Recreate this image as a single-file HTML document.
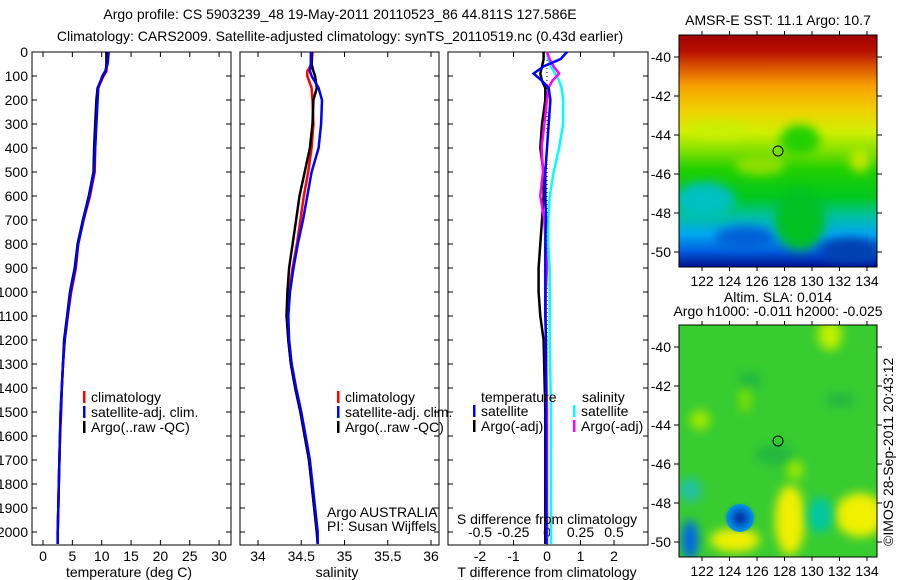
<!DOCTYPE html>
<html><head><meta charset="utf-8">
<style>
body{margin:0;background:#fff;}
svg{display:block;font-family:"Liberation Sans",sans-serif;}
text{font-size:14px;fill:#000;}
</style></head>
<body>
<svg id="fig" width="900" height="580" viewBox="0 0 900 580">
<defs>
<linearGradient id="sstg" x1="0" y1="0" x2="0" y2="1">
<stop offset="0" stop-color="#a00000"/>
<stop offset="0.07" stop-color="#b81000"/>
<stop offset="0.15" stop-color="#e06000"/>
<stop offset="0.22" stop-color="#f8a000"/>
<stop offset="0.32" stop-color="#f0d000"/>
<stop offset="0.42" stop-color="#d0f000"/>
<stop offset="0.5" stop-color="#80e000"/>
<stop offset="0.58" stop-color="#20d000"/>
<stop offset="0.7" stop-color="#00c820"/>
<stop offset="0.78" stop-color="#00c0a0"/>
<stop offset="0.86" stop-color="#00a8f0"/>
<stop offset="0.93" stop-color="#0060e0"/>
<stop offset="1" stop-color="#001090"/>
</linearGradient>
<filter id="bl" x="-50%" y="-50%" width="200%" height="200%"><feGaussianBlur stdDeviation="5"/></filter>
<clipPath id="c1"><rect x="679" y="35" width="198" height="232"/></clipPath>
<clipPath id="c2"><rect x="679" y="325" width="198" height="232"/></clipPath>
</defs>
<text x="340" y="19" text-anchor="middle">Argo profile: CS 5903239_48 19-May-2011 20110523_86 44.811S 127.586E</text>
<text x="340" y="41" text-anchor="middle">Climatology: CARS2009. Satellite-adjusted climatology: synTS_20110519.nc (0.43d earlier)</text>
<g id="p1"></g>
<g id="p2"></g>
<g id="p3"></g>

<g>
<text x="778" y="25" text-anchor="middle">AMSR-E SST: 11.1 Argo: 10.7</text>
<g clip-path="url(#c1)">
<rect x="679" y="35" width="198" height="232" fill="url(#sstg)"/>
<ellipse cx="705" cy="200" rx="30" ry="18" fill="#00c0c0" filter="url(#bl)"/>
<ellipse cx="745" cy="238" rx="30" ry="12" fill="#0060d8" filter="url(#bl)"/>
<ellipse cx="800" cy="220" rx="25" ry="30" fill="#00c020" filter="url(#bl)"/>
<ellipse cx="850" cy="250" rx="30" ry="12" fill="#0040b0" filter="url(#bl)"/>
<ellipse cx="760" cy="165" rx="25" ry="10" fill="#90e000" filter="url(#bl)"/>
<ellipse cx="860" cy="160" rx="10" ry="12" fill="#c0e800" filter="url(#bl)"/>
<ellipse cx="800" cy="140" rx="20" ry="15" fill="#20d000" filter="url(#bl)"/>
<ellipse cx="720" cy="130" rx="30" ry="8" fill="#c8f000" filter="url(#bl)"/>
</g>
<rect x="679" y="35" width="198" height="232" fill="none" stroke="#000"/>
<circle cx="778" cy="151" r="5" fill="none" stroke="#000"/>
</g>

<g>
<text x="778" y="302" text-anchor="middle">Altim. SLA: 0.014</text>
<text x="778" y="316" text-anchor="middle">Argo h1000: -0.011 h2000: -0.025</text>
<g clip-path="url(#c2)">
<rect x="679" y="325" width="198" height="232" fill="#38cc30"/>
<ellipse cx="735" cy="540" rx="25" ry="12" fill="#f0f000" filter="url(#bl)"/>
<ellipse cx="790" cy="520" rx="15" ry="35" fill="#f0f000" filter="url(#bl)"/>
<ellipse cx="860" cy="515" rx="25" ry="22" fill="#f0f000" filter="url(#bl)"/>
<ellipse cx="820" cy="515" rx="12" ry="18" fill="#00c8a0" filter="url(#bl)"/>
<ellipse cx="690" cy="490" rx="12" ry="12" fill="#20c0a0" filter="url(#bl)"/>
<ellipse cx="690" cy="540" rx="8" ry="20" fill="#0060f0" filter="url(#bl)"/>
<ellipse cx="740" cy="518" rx="14" ry="14" fill="#00a0f0"/>
<ellipse cx="740" cy="518" rx="8" ry="8" fill="#001090" filter="url(#bl)"/>
<ellipse cx="830" cy="335" rx="12" ry="15" fill="#c0f000" filter="url(#bl)"/>
<ellipse cx="700" cy="420" rx="10" ry="10" fill="#a0e800" filter="url(#bl)"/>
<ellipse cx="750" cy="380" rx="12" ry="8" fill="#20b840" filter="url(#bl)"/>
<ellipse cx="775" cy="455" rx="20" ry="10" fill="#20b840" filter="url(#bl)"/>
<ellipse cx="795" cy="470" rx="8" ry="10" fill="#a0e800" filter="url(#bl)"/>
<ellipse cx="840" cy="400" rx="15" ry="8" fill="#20b840" filter="url(#bl)"/>
<ellipse cx="745" cy="400" rx="6" ry="12" fill="#80e000" filter="url(#bl)"/>
</g>
<rect x="679" y="325" width="198" height="232" fill="none" stroke="#000"/>
<circle cx="778" cy="441" r="5" fill="none" stroke="#000"/>
<text transform="translate(893,546) rotate(-90)">©IMOS 28-Sep-2011 20:43:12</text>
</g>
</svg>
<script>
const NS="http://www.w3.org/2000/svg";
// ---- data ----
const depthTicks=[0,100,200,300,400,500,600,700,800,900,1000,1100,1200,1300,1400,1500,1600,1700,1800,1900,2000];
const tempTicks=[0,5,10,15,20,25,30];
const salTicks=[34,34.5,35,35.5,36];
const tdiffTicks=[-2,-1,0,1,2];
const sdiffTicks=[-0.5,-0.25,0,0.25,0.5];
const sdiffLabels=["-0.5","-0.25","0","0.25","0.5"];
const depths=[0,50,80,100,150,200,300,400,500,600,700,800,900,1000,1100,1200,1300,1400,1500,1600,1700,1800,1900,2000,2050];
const tempClim=[10.9,10.9,10.8,10.3,9.4,9.2,9.0,8.9,8.8,8.0,6.9,6.0,5.6,4.8,4.2,3.7,3.4,3.2,3.1,2.9,2.8,2.7,2.6,2.5,2.5];
const tempSat=[11.2,11.0,10.6,10.1,9.4,9.3,9.1,8.9,8.7,7.9,6.9,6.0,5.5,4.7,4.2,3.7,3.4,3.2,3.0,2.9,2.8,2.7,2.6,2.5,2.5];
const tempArgo=[10.8,10.8,10.7,10.2,9.3,9.1,8.9,8.7,8.6,7.8,6.8,5.9,5.4,4.6,4.1,3.6,3.4,3.2,3.0,2.9,2.8,2.7,2.6,2.5,2.5];
const salClim=[34.63,34.62,34.57,34.57,34.62,34.63,34.64,34.62,34.58,34.53,34.49,34.45,34.40,34.36,34.34,34.35,34.38,34.43,34.49,34.54,34.59,34.62,34.65,34.68,34.69];
const salSat=[34.61,34.61,34.60,34.62,34.70,34.74,34.73,34.70,34.62,34.57,34.52,34.46,34.41,34.37,34.35,34.36,34.39,34.44,34.50,34.55,34.60,34.63,34.66,34.69,34.69];
const salArgo=[34.62,34.62,34.64,34.66,34.68,34.64,34.63,34.60,34.54,34.48,34.44,34.40,34.36,34.34,34.33,34.35,34.38,34.43,34.49,34.54,34.59,34.62,34.65,34.68,34.69];
const ddepths=[0,30,60,90,120,150,200,300,400,500,600,700,800,900,1000,1100,1200,1500,2000,2050];
const dTsat=[0.6,0.4,-0.1,-0.4,-0.15,0.05,0.1,0.05,0.0,-0.05,-0.05,-0.03,-0.05,-0.05,-0.05,-0.05,-0.03,-0.03,-0.02,-0.02];
const dTargo=[-0.1,-0.1,-0.15,-0.2,-0.15,-0.05,-0.05,-0.15,-0.2,-0.1,-0.1,-0.15,-0.2,-0.25,-0.25,-0.2,-0.1,-0.05,-0.05,-0.05];
const dSsat=[0.0,0.01,0.03,0.06,0.09,0.11,0.12,0.12,0.09,0.05,0.02,0.01,0.01,0.02,0.02,0.02,0.02,0.03,0.03,0.03];
const dSargo=[0.0,0.02,0.05,0.09,0.04,0.01,0.0,-0.02,-0.04,-0.03,-0.05,-0.02,-0.01,0.0,-0.01,-0.01,-0.01,0.0,0.0,0.0];

const yD=d=>52+d*0.24;
function el(p,tag,attrs,txt){const e=document.createElementNS(NS,tag);for(const k in attrs)e.setAttribute(k,attrs[k]);if(txt!==undefined)e.textContent=txt;p.appendChild(e);return e;}
function frame(g,x0,x1,leftLabels){
  el(g,'rect',{x:x0,y:52,width:x1-x0,height:493,fill:'none',stroke:'#000'});
  depthTicks.forEach(d=>{
    el(g,'line',{x1:x0,x2:x0+5,y1:yD(d),y2:yD(d),stroke:'#000'});
    el(g,'line',{x1:x1-5,x2:x1,y1:yD(d),y2:yD(d),stroke:'#000'});
    if(leftLabels){const t=el(g,'text',{x:x0-4,y:yD(d)+5,'text-anchor':'end'},d);
      
      }
  });
}
function xticks(g,vals,labels,sx,y){
  vals.forEach((v,i)=>{const x=sx(v);
    el(g,'line',{x1:x,x2:x,y1:545,y2:540,stroke:'#000'});
    el(g,'line',{x1:x,x2:x,y1:52,y2:57,stroke:'#000'});
    const t=el(g,'text',{x:x,y:y,'text-anchor':'middle'},labels?labels[i]:v);
    
    });
}
function line(g,xs,ds,sx,color,name){
  const pts=xs.map((v,i)=>sx(v).toFixed(1)+','+yD(ds[i]).toFixed(1)).join(' ');
  const p=el(g,'polyline',{points:pts,fill:'none',stroke:color,'stroke-width':2.5});
  
  
}
function legend(g,x,y,items){
  items.forEach((it,i)=>{
    el(g,'rect',{x:x,y:y+i*15-11,width:2.5,height:12,fill:it[1]});
    const t=el(g,'text',{x:x+8,y:y+i*15},it[0]);
    
    
  });
}
// Panel 1
const g1=document.getElementById('p1');
const sxT=v=>43+v*5.87;
frame(g1,32,231,true);
xticks(g1,tempTicks,null,sxT,561);
line(g1,tempClim,depths,sxT,'#f00','temp-climatology-line');
line(g1,tempArgo,depths,sxT,'#000','temp-argo-line');
line(g1,tempSat,depths,sxT,'#00f','temp-satellite-line');
legend(g1,83,402,[['climatology','#f00'],['satellite-adj. clim.','#00f'],['Argo(..raw -QC)','#000']]);
let t=el(g1,'text',{x:129,y:577,'text-anchor':'middle'},'temperature (deg C)');

// Panel 2
const g2=document.getElementById('p2');
const sxS=v=>258+(v-34)*86.5;
frame(g2,240,439,false);
xticks(g2,salTicks,null,sxS,561);
line(g2,salClim,depths,sxS,'#f00','sal-climatology-line');
line(g2,salArgo,depths,sxS,'#000','sal-argo-line');
line(g2,salSat,depths,sxS,'#00f','sal-satellite-line');
legend(g2,337,402,[['climatology','#f00'],['satellite-adj. clim.','#00f'],['Argo(..raw -QC)','#000']]);
t=el(g2,'text',{x:337,y:577,'text-anchor':'middle'},'salinity');

t=el(g2,'text',{x:327,y:517},'Argo AUSTRALIA');

t=el(g2,'text',{x:327,y:531},'PI: Susan Wijffels');

// Panel 3
const g3=document.getElementById('p3');
const sxD=v=>547+v*33.5;
const sxSD=v=>547+v*134;
frame(g3,448,648,false);
xticks(g3,tdiffTicks,null,sxD,561);
sdiffTicks.forEach((v,i)=>{const tt=el(g3,'text',{x:sxSD(v),y:537,'text-anchor':'middle'},sdiffLabels[i]);
  });
el(g3,'line',{x1:547,x2:547,y1:52,y2:545,stroke:'#000','stroke-dasharray':'1,3'});
line(g3,dSsat,ddepths,sxSD,'#0ff','sdiff-satellite-line');
line(g3,dTargo,ddepths,sxD,'#000','tdiff-argo-line');
line(g3,dSargo,ddepths,sxSD,'#f0f','sdiff-argo-line');
line(g3,dTsat,ddepths,sxD,'#00f','tdiff-satellite-line');
t=el(g3,'text',{x:481,y:402},'temperature');
t=el(g3,'text',{x:582,y:402},'salinity');
legend(g3,473,416,[['satellite','#00f'],['Argo(-adj)','#000']]);
legend(g3,573,416,[['satellite','#0ff'],['Argo(-adj)','#f0f']]);
t=el(g3,'text',{x:547,y:524,'text-anchor':'middle'},'S difference from climatology');

t=el(g3,'text',{x:547,y:577,'text-anchor':'middle'},'T difference from climatology');

// Map axes
const lats=[-40,-42,-44,-46,-48,-50];
const lons=[122,124,126,128,130,132,134];
const fig=document.getElementById('fig');
[[35,57],[325,347]].forEach(([top,y40])=>{
  lats.forEach(la=>{const y=y40+(-40-la)*19.5;
    el(fig,'line',{x1:674,x2:679,y1:y,y2:y,stroke:'#000'});
    el(fig,'line',{x1:877,x2:882,y1:y,y2:y,stroke:'#000'});
    const tt=el(fig,'text',{x:671,y:y+5,'text-anchor':'end'},la);
    });
  lons.forEach(lo=>{const x=702+(lo-122)*13.75;
    el(fig,'line',{x1:x,x2:x,y1:top-4,y2:top,stroke:'#000'});
    el(fig,'line',{x1:x,x2:x,y1:top+232,y2:top+236,stroke:'#000'});
    const tt=el(fig,'text',{x:x,y:top+251,'text-anchor':'middle'},lo);
    });
});
</script>
</body></html>
